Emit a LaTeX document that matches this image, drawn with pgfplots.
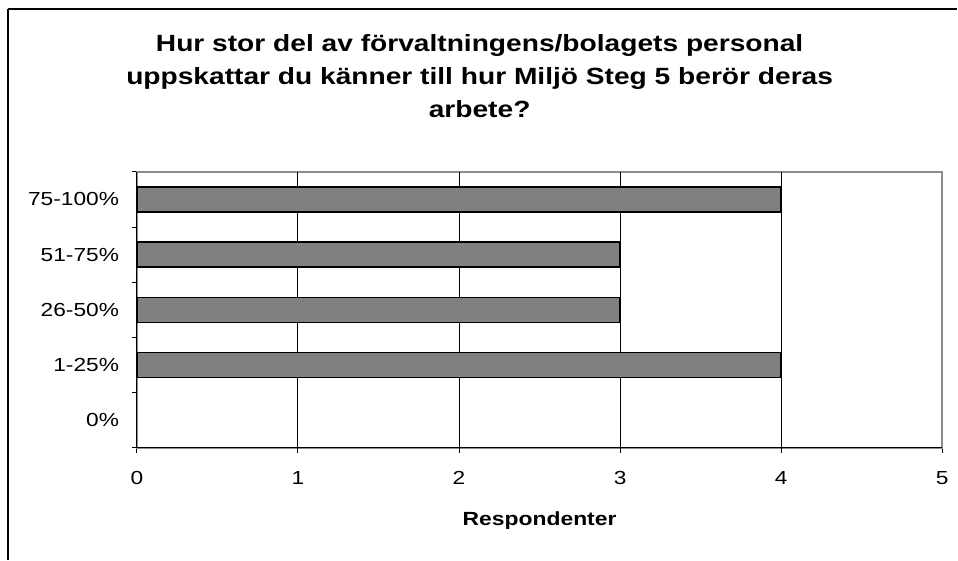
\documentclass[border=0pt]{standalone}
\usepackage{pgfplots}
\pgfplotsset{compat=1.18}
\usepackage{fontspec}
\setmainfont[FakeStretch=1.2]{Liberation Sans}
\definecolor{bargray}{HTML}{808080}
\definecolor{boxgray}{HTML}{8C8C8C}
\begin{document}
\begin{tikzpicture}[x=0.75pt,y=0.75pt]
\path[fill=white] (0,0) rectangle (958,560);
\draw[black,line width=0.8pt] (8,0) -- (8,551);
\draw[black,line width=1.1pt] (7.6,551) -- (958,551);
\node[anchor=base,font=\bfseries\fontsize{17.6}{21}\selectfont] at (480,508.5) {Hur stor del av förvaltningens/bolagets personal};
\node[anchor=base,font=\bfseries\fontsize{17.6}{21}\selectfont] at (480,475.5) {uppskattar du känner till hur Miljö Steg 5 berör deras};
\node[anchor=base,font=\bfseries\fontsize{17.6}{21}\selectfont] at (480,442.5) {arbete?};
\begin{axis}[
  at={(102.75pt,84pt)}, anchor=south west,
  scale only axis, width=604.5pt, height=207pt,
  xbar, bar width=18.75pt,
  xmin=0, xmax=5, ymin=-0.5, ymax=4.5,
  xtick={0,1,2,3,4,5},
  ytick={0,1,2,3,4},
  yticklabels={0\%,1-25\%,26-50\%,51-75\%,75-100\%},
  minor ytick={-0.5,0.5,1.5,2.5,3.5,4.5},
  xtick pos=bottom, ytick pos=left,
  tick align=outside,
  major tick length=3.75pt, minor tick length=3.75pt,
  ytick style={draw=none},
  minor y tick style={black,line width=0.75pt,draw=black},
  xtick style={black,line width=0.75pt},
  extra x ticks={1,2,3,4},
  extra x tick labels={},
  extra x tick style={xmajorgrids=true, major x grid style={black,line width=0.75pt}},
  axis line style={draw=boxgray,line width=1.3pt},
  /pgf/number format/assume math mode=true,
  tick label style={font=\fontsize{14.2}{17}\selectfont,text=black},
  xticklabel style={anchor=base,yshift=-24pt},
  yticklabel style={anchor=east,inner sep=0pt,xshift=-9.5pt},
  xlabel={Respondenter},
  xlabel style={at={(axis description cs:0.5,0)},anchor=base,yshift=-58.5pt,font=\bfseries\fontsize{14.3}{17}\selectfont},
  after end axis/.code={
    \draw[black,line width=0.8pt] (rel axis cs:0,1) -- (rel axis cs:0,0);
    \draw[black,line width=1.1pt] (rel axis cs:0,0) -- (rel axis cs:1,0);
  },
]
% 0% category has value 0 (no bar drawn)
\addplot[fill=bargray,draw=black,line width=1.1pt] coordinates {(4,1) (3,2) (3,3) (4,4)};
\end{axis}
\end{tikzpicture}
\end{document}
